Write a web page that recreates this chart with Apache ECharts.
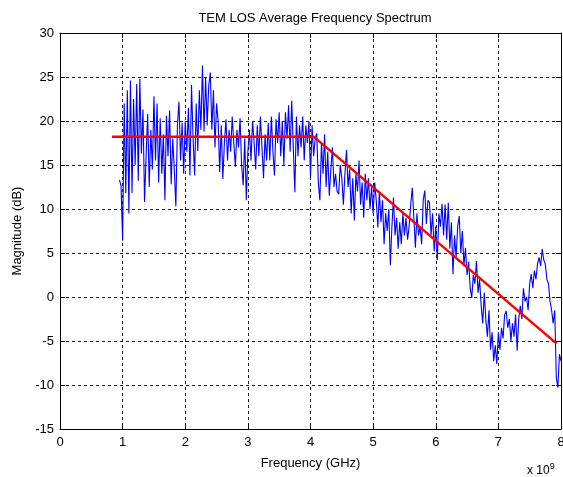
<!DOCTYPE html>
<html>
<head>
<meta charset="utf-8">
<script src="https://cdn.jsdelivr.net/npm/echarts@6/dist/echarts.min.js"></script>
<style>
html,body{margin:0;padding:0;background:#fff;}
#chart{width:563px;height:477px;}
</style>
</head>
<body>
<div id="chart"></div>
<script>
// ---- data (frequency in units of 1e9 Hz) ----
var titleText = 'TEM LOS Average Frequency Spectrum';
var xAxisName = 'Frequency (GHz)';
var yAxisName = 'Magnitude (dB)';
var xTicks = [0, 1, 2, 3, 4, 5, 6, 7, 8];
var yTicks = [-15, -10, -5, 0, 5, 10, 15, 20, 25, 30];

// measured spectrum: samples start at 0.95 and are spaced 0.025 apart
var spectrumStart = 0.95;
var spectrumStep = 0.025;
var spectrumMag = [
  13.3, 12.6, 6.4, 22.0, 11.8, 23.5, 9.5, 24.6, 11.8, 22.5,
  15.0, 24.2, 13.2, 24.8, 16.3, 21.3, 10.8, 16.0, 20.8, 12.5,
  19.0, 14.5, 22.8, 15.5, 22.0, 13.0, 20.3, 14.0, 18.5,
  11.0, 20.6, 16.0, 21.2, 12.8, 18.0, 14.5, 10.3, 19.5, 22.2,
  15.5, 19.8, 14.0, 20.0, 16.5, 21.5, 13.8, 24.1, 18.0, 13.8,
  22.0, 16.6, 23.5, 19.0, 26.3, 18.8, 25.0, 19.5, 24.0, 25.5,
  19.0, 23.5, 17.0, 22.0, 20.0, 14.2, 19.5, 13.4, 17.5, 20.2,
  15.5, 19.0, 16.5, 20.5, 17.5, 14.8, 19.0, 17.0, 20.3, 15.0,
  12.7, 18.0, 11.0, 16.5, 19.0, 15.5, 20.0, 17.5, 14.5, 19.5,
  16.0, 20.5, 17.0, 13.5, 18.5, 15.5, 19.8, 15.5, 20.5, 16.5,
  13.8, 20.2, 17.5, 21.0, 16.0, 20.0, 15.0, 21.0, 18.0, 21.8,
  16.5, 22.3, 17.0, 11.9, 20.5, 16.0, 19.5, 17.0, 20.5, 15.5,
  19.5, 17.5, 20.0, 13.6, 19.5, 16.0, 18.0, 18.6, 13.0, 11.0,
  17.5, 14.0, 18.5, 12.5, 16.5, 11.5, 14.5, 17.0, 12.5, 14.0,
  12.0, 11.7, 15.0, 13.5, 10.5, 14.0, 16.7, 12.5, 14.5, 9.5,
  13.5, 8.7, 14.0, 12.0, 15.5, 10.5, 13.0, 9.0, 14.0, 11.0,
  13.5, 10.0, 12.5, 9.5, 13.0, 11.0, 7.9, 12.0, 8.5, 11.0,
  6.0, 9.5, 7.5, 10.0, 3.6, 8.0, 11.3, 7.0, 9.0, 5.5,
  8.5, 6.0, 9.5, 7.0, 9.0, 6.5, 8.0, 10.5, 12.4, 9.0,
  5.6, 9.5, 7.0, 8.0, 6.0, 11.0, 12.1, 8.3, 11.0, 10.7,
  7.0, 9.5, 5.2, 8.0, 4.2, 9.5, 8.0, 10.6, 7.0, 10.5,
  6.5, 10.7, 5.5, 8.5, 2.6, 7.0, 4.5, 8.0, 9.2, 5.0,
  7.5, 3.5, 5.6, 2.5, 4.0, 1.0, -0.1, 2.5, 1.5, 4.1,
  0.5, 2.0, -1.0, -3.0, 0.5, -2.6, -4.5, -1.5, -6.0, -4.0,
  -7.3, -5.5, -7.6, -4.0, -6.0, -3.5, -4.7, -2.0, -1.6, -3.5,
  -2.5, -5.0, -3.0, -4.5, -2.0, -6.1, -2.5, -1.0, -2.5, 1.0,
  -0.5, 0.0, -1.5, 1.5, 2.6, 1.0, 3.0, 2.0, 3.75, 4.5,
  3.5, 5.45, 4.2, 3.7, 2.0, 1.5, -0.5, -1.5, -3.0, -1.5,
  -9.2, -10.3, -6.5, -7.3
];

// fitted model (red)
var fitFreq = [0.83, 4.05, 4.12, 7.93];
var fitMag = [18.2, 18.2, 17.8, -5.3];

// ---- build ----
var spectrumData = spectrumMag.map(function (v, i) {
  return [+(spectrumStart + i * spectrumStep).toFixed(3), v];
});
var fitData = fitFreq.map(function (f, i) { return [f, fitMag[i]]; });

var FONT = 'Liberation Sans, Arial, sans-serif';
var chart = echarts.init(document.getElementById('chart'), null, {renderer: 'canvas'});

var gridDash = {type: [3, 3], color: '#000', width: 1, opacity: 0.9};

chart.setOption({
  animation: false,
  backgroundColor: '#fff',
  title: {
    text: titleText,
    left: 310, top: 7, textAlign: 'center',
    textStyle: {fontFamily: FONT, fontSize: 13, fontWeight: 'normal', color: '#000'}
  },
  grid: {left: 60, right: 2, top: 33, bottom: 48, containLabel: false, outerBoundsMode: 'none'},
  xAxis: [{
    type: 'value', min: xTicks[0], max: xTicks[xTicks.length - 1], interval: 1,
    position: 'bottom',
    name: xAxisName, nameLocation: 'middle', nameGap: 28,
    nameTextStyle: {fontFamily: FONT, fontSize: 13, color: '#000'},
    axisLine: {show: true, onZero: false, lineStyle: {color: '#000', width: 1}},
    axisTick: {show: true, inside: true, length: 5, lineStyle: {color: '#000'}},
    axisLabel: {fontFamily: FONT, fontSize: 13, color: '#000', margin: 7, hideOverlap: false},
    splitLine: {show: true, lineStyle: gridDash}
  }, {
    type: 'value', min: xTicks[0], max: xTicks[xTicks.length - 1], interval: 1,
    position: 'top',
    axisLine: {show: true, onZero: false, lineStyle: {color: '#000', width: 1}},
    axisTick: {show: true, inside: true, length: 5, lineStyle: {color: '#000'}},
    axisLabel: {show: false},
    splitLine: {show: false}
  }],
  yAxis: [{
    type: 'value', min: yTicks[0], max: yTicks[yTicks.length - 1], interval: 5,
    position: 'left',
    name: yAxisName, nameLocation: 'middle', nameGap: 36, nameRotate: 90,
    nameTextStyle: {fontFamily: FONT, fontSize: 13, color: '#000'},
    axisLine: {show: true, onZero: false, lineStyle: {color: '#000', width: 1}},
    axisTick: {show: true, inside: true, length: 5, lineStyle: {color: '#000'}},
    axisLabel: {fontFamily: FONT, fontSize: 13, color: '#000', margin: 6},
    splitLine: {show: true, lineStyle: gridDash}
  }, {
    type: 'value', min: yTicks[0], max: yTicks[yTicks.length - 1], interval: 5,
    position: 'right',
    axisLine: {show: true, onZero: false, lineStyle: {color: '#000', width: 1}},
    axisTick: {show: true, inside: true, length: 5, lineStyle: {color: '#000'}},
    axisLabel: {show: false},
    splitLine: {show: false}
  }],
  graphic: [{
    type: 'text',
    left: 527, top: 462,
    style: {
      text: 'x 10{sup|9}',
      fontFamily: FONT, fontSize: 12, fill: '#000',
      rich: {sup: {fontFamily: FONT, fontSize: 9, verticalAlign: 'top', padding: [0, 0, 8, 0]}}
    }
  }],
  series: [{
    type: 'line', name: 'spectrum',
    xAxisIndex: 0, yAxisIndex: 0,
    data: spectrumData,
    showSymbol: false, symbol: 'none',
    lineStyle: {color: '#0000ff', width: 1.1},
    z: 2
  }, {
    type: 'line', name: 'fit',
    xAxisIndex: 0, yAxisIndex: 0,
    data: fitData,
    showSymbol: false, symbol: 'none',
    lineStyle: {color: '#ff0000', width: 2.5},
    z: 3
  }]
});
</script>
</body>
</html>
